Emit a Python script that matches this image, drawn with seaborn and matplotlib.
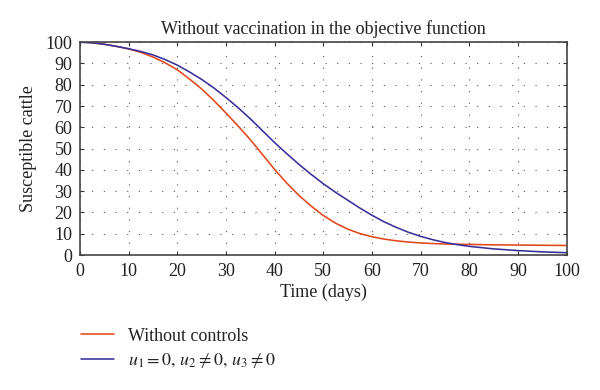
import numpy as np
import pandas as pd
import matplotlib
matplotlib.use("Agg")
import matplotlib.pyplot as plt
import seaborn as sns

# values (every 2.5 days, coarser on the flat tail)
days = [0, 2.5, 5, 7.5, 10, 12.5, 15, 17.5, 20, 22.5, 25, 27.5, 30, 32.5, 35, 37.5,
        40, 42.5, 45, 47.5, 50, 52.5, 55, 57.5, 60, 62.5, 65, 67.5, 70, 72.5, 75,
        77.5, 80, 85, 90, 95, 100]
no_controls = [100, 99.7, 99.0, 98.0, 96.8, 95.2, 93.0, 90.3, 87.0, 82.7, 78.0, 72.6,
               66.7, 60.6, 54.2, 47.2, 40.2, 33.8, 28.0, 23.0, 18.6, 15.0, 12.2, 10.1,
               8.6, 7.5, 6.7, 6.1, 5.7, 5.4, 5.2, 5.1, 5.0, 4.8, 4.7, 4.6, 4.5]
u2_u3 = [100, 99.7, 99.0, 98.0, 96.9, 95.6, 94.0, 91.8, 89.2, 86.0, 82.5, 78.5,
         74.0, 69.2, 64.0, 58.4, 52.8, 47.6, 42.6, 37.9, 33.5, 29.5, 25.8, 22.1,
         18.7, 15.6, 13.0, 10.7, 8.8, 7.2, 5.9, 4.9, 4.1, 2.9, 2.1, 1.5, 1.1]

labels = ["Without controls", r"$u_1 = 0,\, u_2 \neq 0,\, u_3 \neq 0$"]
colors = ["#E1471B", "#37309A"]
title = "Without vaccination in the objective function"

df = pd.concat([
    pd.DataFrame({"day": days, "S": no_controls, "case": labels[0]}),
    pd.DataFrame({"day": days, "S": u2_u3, "case": labels[1]}),
])

sns.set_style("ticks")
plt.rcParams["font.family"] = ["Liberation Serif", "DejaVu Serif"]
plt.rcParams["mathtext.fontset"] = "stix"
fs = 13
txt = "#222222"

fig = plt.figure(figsize=(6, 3.9), dpi=100)
ax = fig.add_axes([0.1333, 0.346, 0.811, 0.546])

sns.lineplot(data=df, x="day", y="S", hue="case", palette=colors,
             hue_order=labels, ax=ax, linewidth=1.15, legend=False)

ax.set_xlim(0, 100)
ax.set_ylim(0, 100)
ax.set_xticks(np.arange(0, 101, 10))
ax.set_yticks(np.arange(0, 101, 10))
ax.grid(True, linestyle=(0, (1, 9.5)), color="#555555", linewidth=0.8)
ax.tick_params(direction="in", top=True, right=True, length=3, pad=5.5,
               labelsize=fs, colors="#333333", labelcolor=txt)
for sp in ax.spines.values():
    sp.set_color("#444444")
    sp.set_linewidth(1.2)

ax.set_title(title, fontsize=fs, color=txt, pad=6)
ax.set_xlabel("Time (days)", fontsize=fs, color=txt, labelpad=3)
ax.set_ylabel("Susceptible cattle", fontsize=fs, color=txt, labelpad=6)

handles = [plt.Line2D([], [], color=c, linewidth=1.15) for c in colors]
fig.legend(handles, labels, loc="upper left", bbox_to_anchor=(0.135, 0.16),
           frameon=False, fontsize=fs, handlelength=1.85, handletextpad=0.75,
           labelspacing=0.38, borderpad=0, borderaxespad=0, labelcolor=txt)

fig.savefig("out.png", dpi=100)
